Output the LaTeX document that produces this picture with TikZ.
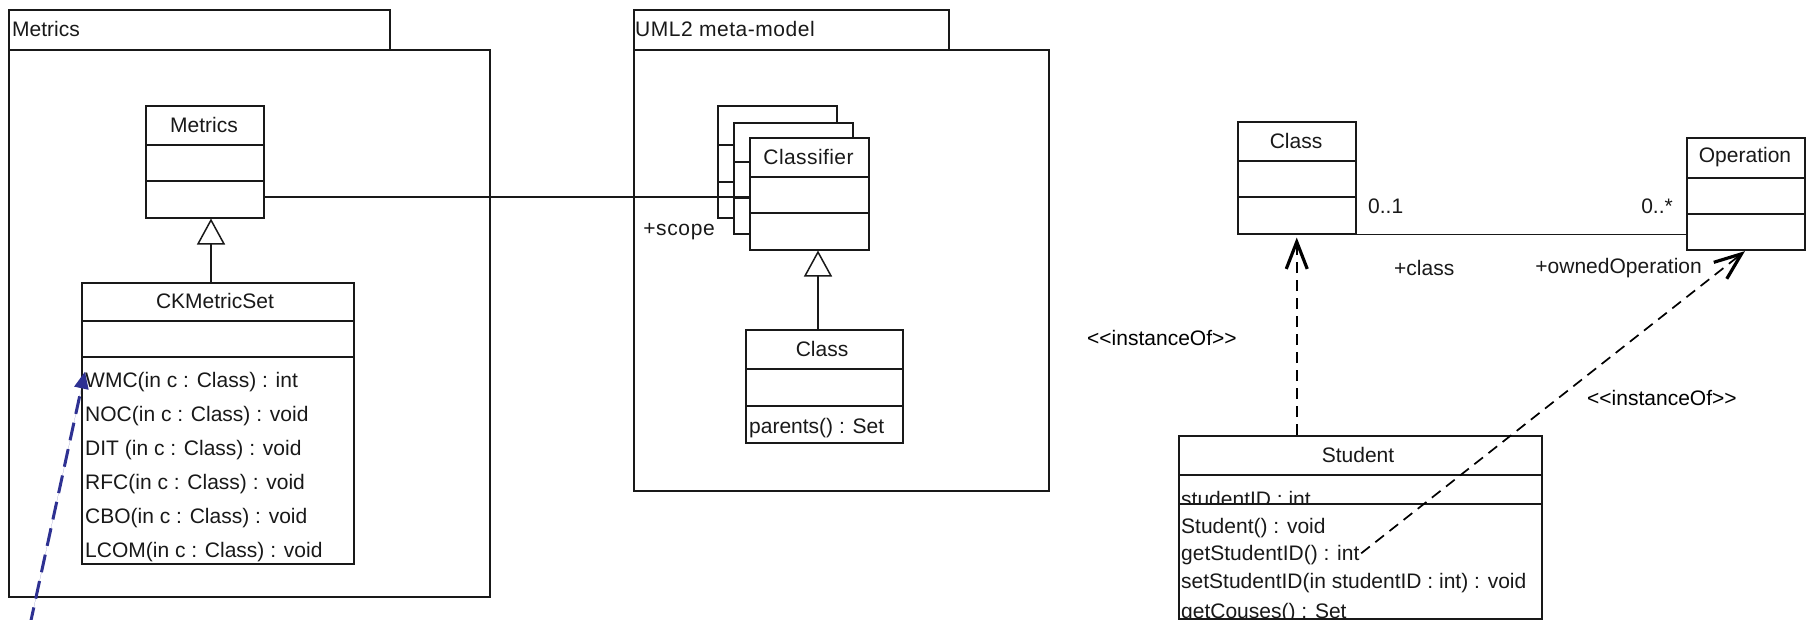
\documentclass[tikz,border=0pt]{standalone}
\usepackage{fontspec}
\setmainfont{Liberation Sans}
\usetikzlibrary{arrows.meta}
\definecolor{arrowblue}{RGB}{46,49,146}
\definecolor{ink}{RGB}{25,25,25}
\newcommand{\clsdiv}[2]{\draw[sepline] ([yshift=-#2pt]#1.north west) -- ([yshift=-#2pt]#1.north east);}
\tikzset{
 box/.style={draw=ink, line width=1.5pt, fill=white, inner sep=0pt, anchor=north west},
 sepline/.style={draw=ink, line width=1.5pt},
 txt/.style={inner sep=0pt, text=ink, font=\fontsize{21}{25}\selectfont},
 spaced/.style={inner sep=0pt, text=ink, font=\addfontfeature{LetterSpace=#1}\fontsize{21}{25}\selectfont},
 stereo/.style={inner sep=0pt, text=black, font=\fontsize{21}{25}\selectfont},
 assoc/.style={draw=ink, line width=1.5pt},
 gen/.style={draw=ink, line width=1.5pt, -{Triangle[open, fill=white, length=26pt, width=28pt]}},
 inst/.style={draw=black, line width=1.7pt, dash pattern=on 11pt off 7pt, -{Straight Barb[length=27pt,width=21pt,line width=3.2pt]}},
 trace/.style={draw=arrowblue, line width=3pt, dash pattern=on 18pt off 9pt, -{Triangle[length=17pt,width=14pt]}, fill=arrowblue}
}
\begin{document}
\begin{tikzpicture}[x=1pt,y=-1pt]
\useasboundingbox[fill=white] (0,0) rectangle (1808,619);

% ---------- Package Metrics ----------
\node[box, minimum width=381pt, minimum height=40pt] (pkgAtab) at (8,9) {};
\node[box, minimum width=481pt, minimum height=547pt] (pkgA) at (8,49) {};
\node[txt, anchor=west] (pkgAname) at (12,29) {Metrics};

% ---------- Package UML2 meta-model ----------
\node[box, minimum width=315pt, minimum height=40pt] (pkgBtab) at (633,9) {};
\node[box, minimum width=415pt, minimum height=441pt] (pkgB) at (633,49) {};
\node[spaced=2.5, anchor=west] (pkgBname) at (635,29) {UML2 meta-model};

% ---------- Metrics class ----------
\node[box, minimum width=118pt, minimum height=112pt] (mcls) at (145,105) {};
\clsdiv{mcls}{40}\clsdiv{mcls}{76}
\node[txt] (mclsname) at (204,125) {Metrics};

% ---------- CKMetricSet ----------
\node[box, minimum width=272pt, minimum height=281pt] (ck) at (81,282) {};
\clsdiv{ck}{39}\clsdiv{ck}{75}
\node[txt] (ckname) at (215,301) {CKMetricSet};
\node[txt, anchor=base west] (wmc) at (85,387) {WMC(in c : Class) : int};
\node[txt, anchor=base west] (noc) at (85,421) {NOC(in c : Class) : void};
\node[txt, anchor=base west] (dit) at (85,455) {DIT (in c : Class) : void};
\node[txt, anchor=base west] (rfc) at (85,489) {RFC(in c : Class) : void};
\node[txt, anchor=base west] (cbo) at (85,523) {CBO(in c : Class) : void};
\node[txt, anchor=base west] (lcom) at (85,557) {LCOM(in c : Class) : void};

\coordinate (g1) at (211,0);
\draw[gen] (ck.north -| g1) -- (mcls.south -| g1);

% ---------- Classifier stack ----------
\node[box, minimum width=119pt, minimum height=112pt] (cf3) at (717,105) {};
\clsdiv{cf3}{40}\clsdiv{cf3}{77}
\node[box, minimum width=119pt, minimum height=111pt] (cf2) at (733,122) {};
\clsdiv{cf2}{40}\clsdiv{cf2}{76}
\node[box, minimum width=119pt, minimum height=112pt] (cf1) at (749,137) {};
\clsdiv{cf1}{40}\clsdiv{cf1}{76}
\node[spaced=2] (cfname) at (808.5,157) {Classifier};
\node[spaced=3, anchor=east] (scope) at (715,232) {+scope};

% ---------- Class (UML2) ----------
\node[box, minimum width=157pt, minimum height=113pt] (ucls) at (745,329) {};
\clsdiv{ucls}{40}\clsdiv{ucls}{77}
\node[txt] (uclsname) at (822,349) {Class};
\node[txt, anchor=base west] (parents) at (749,433) {parents() : Set};

\coordinate (g2) at (818,0);
\draw[gen] (ucls.north -| g2) -- (cf1.south -| g2);

% association Metrics -- Classifier
\coordinate (a1) at (0,197);
\draw[assoc] (mcls.east |- a1) -- (cf1.west |- a1);

% ---------- Right: Class / Operation ----------
\node[box, minimum width=118pt, minimum height=112pt] (rcls) at (1237,121) {};
\clsdiv{rcls}{40}\clsdiv{rcls}{76}
\node[txt] (rclsname) at (1296,141) {Class};

\node[box, minimum width=118pt, minimum height=112pt] (op) at (1686,137) {};
\clsdiv{op}{41}\clsdiv{op}{77}
\node[txt] (opname) at (1745,157) {Operation};

\draw[assoc] (rcls.south east) -- (rcls.south east -| op.west);
\node[txt, anchor=west] (m1) at (1368,206) {0..1};
\node[txt, anchor=east] (m2) at (1673,206) {0..*};
\node[txt, anchor=west] (r1) at (1394,268) {+class};
\node[txt, anchor=east] (r2) at (1702,268) {+ownedOperation};

% ---------- Student ----------
\node[box, minimum width=363pt, minimum height=183pt] (stud) at (1178,435) {};
\node[txt] (studname) at (1358,455) {Student};
\begin{scope}
\clip (1178,475) rectangle (1541,504);
\node[txt, anchor=base west] (sid) at (1181,506) {studentID : int};
\end{scope}
\clsdiv{stud}{40}\clsdiv{stud}{69}
\node[txt, anchor=base west] (s1) at (1181,533) {Student() : void};
\node[txt, anchor=base west] (getid) at (1181,560) {getStudentID() : int};
\node[txt, anchor=base west] (setid) at (1181,588) {setStudentID(in studentID : int) : void};
\node[txt, anchor=base west] (getc) at (1181,618) {getCouses() : Set};

% instanceOf dependencies
\draw[inst, shorten >=3pt] (stud.north -| rcls.south) -- (rcls.south);
\draw[inst, shorten <=2pt, shorten >=1pt] (getid.east) -- (op.south);
\node[stereo, anchor=west] (io1) at (1087,338) {<\kern0pt<instanceOf>\kern0pt>};
\node[stereo, anchor=west] (io2) at (1587,398) {<\kern0pt<instanceOf>\kern0pt>};

% blue trace arrow
\coordinate (bstart) at (30,625);
\draw[trace] (bstart) -- (wmc.north west);
\end{tikzpicture}
\end{document}
